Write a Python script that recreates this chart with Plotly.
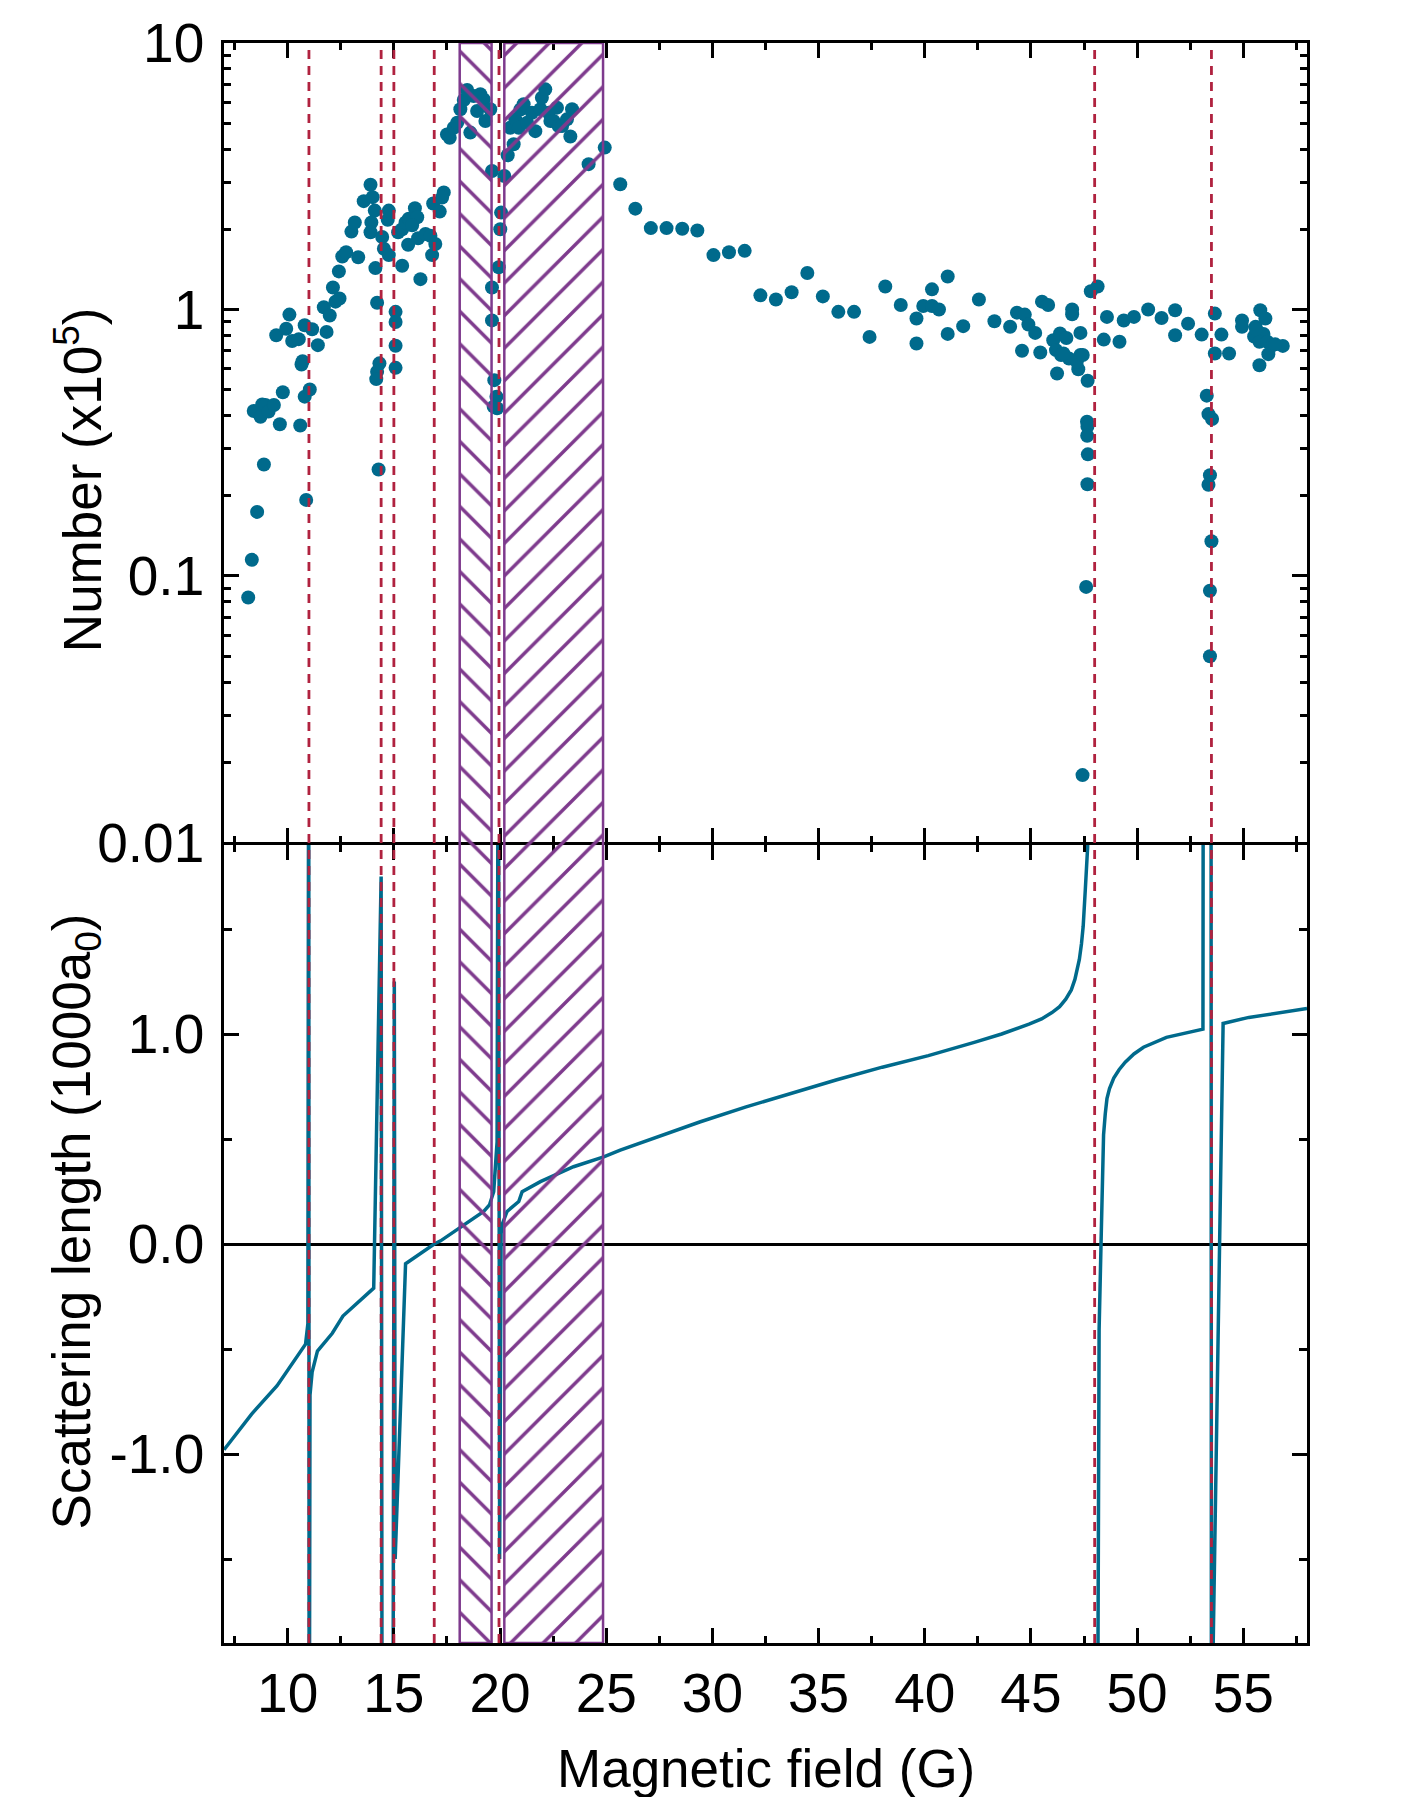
import plotly.graph_objects as go

# ---------------- data ----------------
# Upper panel: atom number (x10^5) vs magnetic field (G)
field_pts = [
    8.14, 8.31, 8.56, 8.88, 10.87, 14.28,
    8.40, 8.72, 8.80, 8.95, 9.10, 9.35, 9.63, 9.77, 10.59, 10.80, 11.04, 10.65, 10.70,
    9.46, 9.93, 10.08, 10.21, 10.52, 10.80, 11.15, 11.42, 11.83, 11.70, 11.98, 12.25,
    12.44, 12.13, 12.41, 12.57, 12.75, 13.32, 13.00, 13.16, 13.58, 13.90, 14.00, 14.10,
    13.94, 13.90, 14.13, 14.21, 14.32, 14.21, 14.17, 14.45, 14.53, 14.76, 14.71, 14.76,
    15.08, 15.08, 15.08, 15.08, 15.39, 15.20, 15.39, 15.55, 15.70, 15.67, 15.99, 16.10,
    15.86, 16.14, 16.25, 16.49, 16.72, 16.80, 16.85,
    17.35, 17.16, 17.27, 16.95,
    17.50, 17.63, 17.82, 17.98, 18.13, 18.29, 18.45, 18.60, 18.76, 18.92, 19.07, 19.23,
    19.31, 19.54, 19.62, 20.20, 20.05, 20.01, 19.94, 19.62, 19.62, 19.73, 19.83, 19.70, 19.86,
    20.36, 20.64, 20.48, 20.72, 20.88, 20.96, 21.11, 21.27, 21.50, 21.66, 21.90, 21.97,
    22.13, 22.29, 22.37, 22.52, 22.68, 22.76, 22.92, 23.15, 23.39, 23.31, 24.17, 24.93,
    25.66, 26.37,
    27.10, 27.84, 28.58, 29.29, 30.05, 30.78, 31.52, 32.26, 32.99, 33.73, 34.47, 35.20,
    35.93, 36.67, 37.40, 38.14, 38.87, 39.61, 39.61, 39.93, 40.34, 40.34, 40.67, 41.08,
    41.08, 41.81, 42.55, 43.28, 44.02, 44.34, 44.71, 44.88, 45.20, 44.58, 45.44, 45.52,
    45.81, 46.05, 46.37, 46.67, 46.18, 46.42, 46.79, 46.23, 46.94, 46.94, 47.33, 47.33,
    47.23, 47.67, 47.82, 48.14, 48.58, 48.43, 49.17, 49.37, 49.85, 50.52, 51.15, 51.79,
    51.79, 52.40, 53.04, 53.66, 53.97, 53.66, 54.33, 54.94, 54.94, 55.58, 55.80, 56.04,
    55.51, 55.95, 55.76, 56.13, 56.37, 56.86, 56.18, 55.76, 56.50, 55.60, 46.53, 47.16,
    47.44,
    47.64, 47.66, 47.65, 47.68, 47.66, 47.60, 47.43,
    53.36, 53.53, 53.43, 53.36, 53.50, 53.43, 53.43, 53.28,
]
number_pts = [
    0.083, 0.115, 0.174, 0.262, 0.193, 0.251,
    0.416, 0.396, 0.440, 0.438, 0.414, 0.438, 0.371, 0.489, 0.367, 0.471, 0.501, 0.622, 0.640,
    0.800, 0.847, 0.957, 0.762, 0.774, 0.873, 0.843, 0.735, 0.824, 1.02, 0.950, 1.07,
    1.10, 1.21, 1.39, 1.58, 1.64, 1.57, 1.96, 2.12, 2.55, 2.94, 2.64, 2.35,
    2.12, 1.95, 1.43, 1.06, 0.628, 0.584, 0.548, 1.87, 1.69, 1.60, 2.17, 2.35,
    0.98, 0.898, 0.731, 0.604, 1.46, 1.95, 2.00, 2.12, 2.19, 1.75, 2.40, 2.22,
    2.07, 1.85, 1.30, 1.92, 1.89, 1.60, 2.50,
    2.75, 2.33, 2.63, 1.76,
    4.54, 4.41, 4.81, 5.02, 5.64, 6.11, 6.66, 4.61, 6.33, 5.56, 6.42, 6.14,
    5.10, 5.64, 3.31, 3.17, 2.31, 2.00, 1.44, 1.21, 0.91, 0.543, 0.471, 0.432, 0.426,
    3.79, 4.17, 4.81, 5.17, 4.81, 5.63, 5.89, 5.02, 5.47, 4.67, 5.64, 6.23,
    6.70, 5.47, 5.10, 5.10, 5.72, 4.88, 4.88, 5.17, 5.64, 4.46, 3.51, 4.05,
    2.95, 2.39,
    2.02, 2.02, 2.01, 1.98, 1.60, 1.64, 1.66, 1.13, 1.09, 1.16, 1.37, 1.12,
    0.98, 0.98, 0.789, 1.22, 1.04, 0.925, 0.745, 1.03, 1.19, 1.03, 1.00, 1.33,
    0.81, 0.866, 1.09, 0.904, 0.861, 0.973, 0.957, 0.878, 0.817, 0.700, 0.690, 1.07,
    1.04, 0.767, 0.813, 0.782, 0.704, 0.675, 0.655, 0.575, 1.00, 0.96, 0.817, 0.675,
    0.597, 0.540, 1.17, 1.22, 0.938, 0.771, 0.757, 0.909, 0.938, 1.00, 0.929, 0.993,
    0.800, 0.885, 0.805, 0.965, 0.805, 0.684, 0.684, 0.909, 0.861, 0.861, 0.993, 0.925,
    0.792, 0.810, 0.757, 0.757, 0.734, 0.730, 0.680, 0.618, 0.740, 0.844, 0.684, 0.637,
    0.675,
    0.379, 0.364, 0.336, 0.286, 0.221, 0.091, 0.0179,
    0.405, 0.388, 0.239, 0.220, 0.135, 0.088, 0.050, 0.475,
]

# Lower panel: scattering length (1000 a0) vs magnetic field (G)
field_curve = [
    7.0, 8.3, 9.5, 10.4, 10.84, 10.95, 10.99, 11.01, 11.05, 11.15, 11.4, 12.1, 12.6,
    13.35, 14.05, 14.4, 14.45, 14.95, 15.02, 15.06, 15.55, 16.9, 17.2, 19.23, 19.5,
    19.7, 19.86, 19.92, 19.98, 20.05, 20.09, 20.33, 20.88, 21.04, 21.9, 23.46, 24.88,
    25.66, 29.4, 31.55, 33.7, 35.86, 38.0, 40.17, 42.33, 43.62, 44.91, 45.5, 45.99,
    46.35, 46.64, 46.9, 47.07, 47.2, 47.28, 47.38, 47.46, 47.56, 47.67, 47.72, None,
    48.12, 48.21, 48.3, 48.36, 48.42, 48.5, 48.58, 48.7, 48.9, 49.15, 49.44, 49.85,
    50.3, 51.38, 53.1, 53.12, 53.48, 53.5, 53.52, 54.05, 55.26, 58.0,
]
scat_len = [
    -0.98, -0.81, -0.675, -0.54, -0.477, -0.38, 3.0, -3.0, -0.72, -0.61, -0.51, -0.425, -0.343,
    -0.272, -0.21, 1.75, -3.0, -3.0, 1.25, -1.5, -0.094, 0.0, 0.015, 0.155, 0.186,
    0.249, 0.486, 3.0, -1.5, 0.05, 0.091, 0.155, 0.202, 0.249, 0.297, 0.368, 0.415,
    0.447, 0.581, 0.652, 0.718, 0.782, 0.842, 0.897, 0.960, 1.0, 1.047, 1.072, 1.102,
    1.13, 1.166, 1.21, 1.26, 1.31, 1.355, 1.43, 1.513, 1.687, 1.89, 3.0, None,
    -3.0, -0.41, 0.0, 0.36, 0.52, 0.62, 0.692, 0.74, 0.79, 0.83, 0.866, 0.905,
    0.937, 0.984, 1.023, 3.0, 3.0, -3.0, -2.3, 1.05, 1.079, 1.121,
]

resonances = [11.0, 14.4, 15.0, 16.9, 19.95, 48.0, 53.5]
hatch_start = [18.1, 20.2]
hatch_end = [19.6, 24.85]
hatch_shape = ["\\", "/"]

num_tickvals = [0.01, 0.1, 1, 10]
num_ticktext = ["0.01", "0.1", "1", "10"]
num_minor = [m * 10.0 ** e for e in (-2, -1, 0) for m in range(2, 10)]
a_tickvals = [-1.0, 0.0, 1.0]
a_ticktext = ["-1.0", "0.0", "1.0"]
a_minor = [-1.5, -0.5, 0.5, 1.5]

TEAL = "#006a8c"
RED = "#b0223f"
PURPLE = "#7e3a8d"
FONT = "Liberation Sans, Arial, sans-serif"
TICKFONT = "Liberation Sans, Arial, sans-serif"

fig = go.Figure()
fig.add_trace(go.Scatter(
    x=field_pts, y=number_pts, mode="markers",
    marker=dict(color=TEAL, size=14, line=dict(width=0)),
    xaxis="x2", yaxis="y2", hoverinfo="skip"))
fig.add_trace(go.Scatter(
    x=field_curve, y=scat_len, mode="lines", connectgaps=False,
    line=dict(color=TEAL, width=3.5),
    xaxis="x", yaxis="y", hoverinfo="skip"))
fig.add_trace(go.Bar(
    x=[(s + e) / 2 for s, e in zip(hatch_start, hatch_end)],
    width=[e - s for s, e in zip(hatch_start, hatch_end)],
    y=[1, 1], base=[0, 0],
    marker=dict(color="rgba(0,0,0,0)", line=dict(color=PURPLE, width=2.5),
                pattern=dict(shape=hatch_shape, fgcolor=PURPLE, bgcolor="rgba(0,0,0,0)",
                             size=23, solidity=0.15, fillmode="replace")),
    xaxis="x3", yaxis="y3", hoverinfo="skip"))

for r in resonances:
    fig.add_shape(type="line", xref="x", yref="paper", x0=r, x1=r, y0=0, y1=1,
                  line=dict(color=RED, width=2.8, dash="9px,7px"), layer="above")

xcommon = dict(range=[7, 58], showline=True, linecolor="black", linewidth=2.5,
               mirror="allticks", ticks="inside", ticklen=15, tickwidth=2.5,
               tickcolor="black", showgrid=False, zeroline=False,
               tickmode="linear", tick0=0, dtick=5,
               minor=dict(ticks="inside", ticklen=7, tickwidth=2.5, tickcolor="black",
                          tick0=0, dtick=2.5, showgrid=False),
               tickfont=dict(size=55, family=TICKFONT, color="black"))

fig.update_layout(
    width=1418, height=1797,
    margin=dict(l=224, r=111, t=40, b=154),
    plot_bgcolor="rgba(0,0,0,0)", paper_bgcolor="white",
    showlegend=False, hovermode=False, barmode="overlay",
    font=dict(family=FONT, size=50, color="black"),
    xaxis=dict(**xcommon, domain=[0, 1], anchor="y", showticklabels=True),
    xaxis2=dict(**xcommon, domain=[0, 1], anchor="y2", showticklabels=False),
    xaxis3=dict(range=[7, 58], domain=[0, 1], anchor="y3", visible=False),
    yaxis=dict(domain=[0, 0.49875], anchor="x", range=[-1.9, 1.9],
               showline=True, linecolor="black", linewidth=2.5, mirror="allticks",
               ticks="inside", ticklen=15, tickwidth=2.5, tickcolor="black",
               showgrid=False, zeroline=True, zerolinecolor="black", zerolinewidth=2.5,
               tickmode="array", tickvals=a_tickvals, ticktext=a_ticktext,
               ticklabelstandoff=6,
               minor=dict(ticks="inside", ticklen=8, tickwidth=2.5, tickcolor="black",
                          tickmode="array", tickvals=a_minor, showgrid=False),
               tickfont=dict(size=55, family=TICKFONT, color="black")),
    yaxis2=dict(domain=[0.50032, 1], anchor="x2", type="log", range=[-2, 1],
                showline=True, linecolor="black", linewidth=2.5, mirror="allticks",
                ticks="inside", ticklen=15, tickwidth=2.5, tickcolor="black",
                showgrid=False, zeroline=False,
                tickmode="array", tickvals=num_tickvals, ticktext=num_ticktext,
                ticklabelstandoff=6,
                minor=dict(ticks="inside", ticklen=7, tickwidth=2.5, tickcolor="black",
                           tickmode="array", tickvals=num_minor, showgrid=False),
                tickfont=dict(size=55, family=TICKFONT, color="black")),
    yaxis3=dict(domain=[0, 1], anchor="x3", range=[0, 1], visible=False),
)

fig.add_annotation(text="Number (x10<sup>5</sup>)", xref="paper", yref="paper",
                   x=-0.1348, y=0.7268, textangle=-90, showarrow=False,
                   xanchor="center", yanchor="middle",
                   font=dict(size=53, family=FONT, color="black"))
fig.add_annotation(text="Scattering length (1000a<sub>0</sub>)", xref="paper", yref="paper",
                   x=-0.1376, y=0.2635, textangle=-90, showarrow=False,
                   xanchor="center", yanchor="middle",
                   font=dict(size=53, family=FONT, color="black"))
fig.add_annotation(text="Magnetic field (G)", xref="paper", yref="paper",
                   x=0.5, y=-0.0785, showarrow=False,
                   xanchor="center", yanchor="middle",
                   font=dict(size=53, family=FONT, color="black"))

fig.write_html("out.html")
